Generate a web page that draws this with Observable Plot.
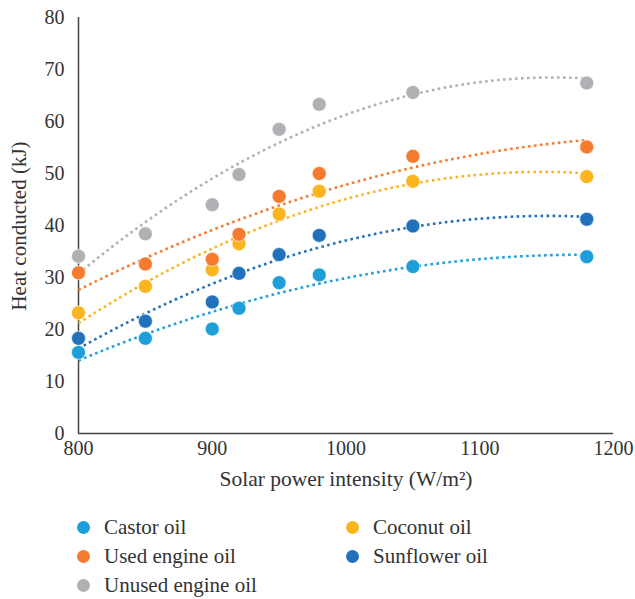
<!DOCTYPE html>
<html>
<head>
<meta charset="utf-8">
<script src="https://cdn.jsdelivr.net/npm/d3@7"></script>
<script src="https://cdn.jsdelivr.net/npm/@observablehq/plot@0.6"></script>
<style>
  html, body { margin: 0; padding: 0; background: #fff; }
  #chart { position: relative; width: 635px; }
  #chart svg, #chart svg text { font-family: 'Liberation Serif', 'Times New Roman', 'DejaVu Serif', serif !important; }
  .legend { position: relative; width: 635px; height: 99px; font-family: 'Liberation Serif', 'Times New Roman', 'DejaVu Serif', serif; font-size: 21px; color: #333; }
  .item { position: absolute; display: flex; align-items: center; white-space: nowrap; }
  .sw { width: 13px; height: 13px; border-radius: 50%; margin-right: 14px; }
</style>
</head>
<body>
<div id="chart"></div>
<script>
// ---- data ----
const intensity = [800, 850, 900, 920, 950, 980, 1050, 1180];
const seriesNames = ["Castor oil", "Coconut oil", "Used engine oil", "Sunflower oil", "Unused engine oil"];
const castorOil = [15.6, 18.3, 20.1, 24.1, 29.0, 30.5, 32.1, 34.0];
const coconutOil = [23.2, 28.3, 31.5, 36.5, 42.2, 46.6, 48.5, 49.4];
const usedEngineOil = [30.9, 32.6, 33.5, 38.3, 45.6, 50.0, 53.3, 55.1];
const sunflowerOil = [18.3, 21.6, 25.3, 30.8, 34.4, 38.1, 39.9, 41.2];
const unusedEngineOil = [34.1, 38.4, 44.0, 49.8, 58.5, 63.3, 65.6, 67.4];
const seriesColors = ["#1e9fda", "#fbb520", "#f47b30", "#2272bb", "#b0b1b4"];
const xTicks = [800, 900, 1000, 1100, 1200];
const yTicks = [0, 10, 20, 30, 40, 50, 60, 70, 80];

const valuesBy = {
  "Castor oil": castorOil,
  "Coconut oil": coconutOil,
  "Used engine oil": usedEngineOil,
  "Sunflower oil": sunflowerOil,
  "Unused engine oil": unusedEngineOil
};

const points = [];
for (const s of seriesNames) valuesBy[s].forEach((v, i) => points.push({series: s, x: intensity[i], y: v}));

// order-2 polynomial least-squares trendline (as in the original spreadsheet chart)
function polyFit(xs, ys) {
  const u = xs.map(x => (x - 1000) / 100);
  const S = k => d3.sum(u, t => t ** k);
  const T = k => d3.sum(u, (t, i) => ys[i] * t ** k);
  const A = [[S(0), S(1), S(2)], [S(1), S(2), S(3)], [S(2), S(3), S(4)]];
  const b = [T(0), T(1), T(2)];
  const M = A.map((r, i) => [...r, b[i]]);
  for (let i = 0; i < 3; i++) {
    for (let j = i + 1; j < 3; j++) {
      const f = M[j][i] / M[i][i];
      for (let k = i; k < 4; k++) M[j][k] -= f * M[i][k];
    }
  }
  const c = [0, 0, 0];
  for (let i = 2; i >= 0; i--) {
    let s = M[i][3];
    for (let k = i + 1; k < 3; k++) s -= M[i][k] * c[k];
    c[i] = s / M[i][i];
  }
  return x => { const t = (x - 1000) / 100; return c[0] + c[1] * t + c[2] * t * t; };
}

const trend = [];
const x0 = d3.min(intensity), x1 = d3.max(intensity);
for (const s of seriesNames) {
  const f = polyFit(intensity, valuesBy[s]);
  for (let x = x0; x <= x1; x += 2) trend.push({series: s, x, y: f(x)});
}

const FONT = "'Liberation Serif', 'Times New Roman', 'DejaVu Serif', serif";

const plot = Plot.plot({
  width: 635,
  height: 500,
  marginLeft: 78,
  marginRight: 22,
  marginTop: 17,
  marginBottom: 67,
  style: {fontFamily: FONT, fontSize: "20px", color: "#333", background: "#fff"},
  x: {domain: [800, 1200], ticks: xTicks, label: null},
  y: {domain: [0, 80], ticks: yTicks, label: null},
  color: {domain: seriesNames, range: seriesColors},
  marks: [
    Plot.axisX({ticks: xTicks, tickSize: 0, tickPadding: 7, tickFormat: d => String(d), fontSize: 20, label: null}),
    Plot.axisY({ticks: yTicks, tickSize: 0, tickPadding: 14, fontSize: 20, label: null}),
    Plot.ruleY([0], {stroke: "#444", strokeWidth: 1.5}),
    Plot.ruleX([800], {stroke: "#444", strokeWidth: 1.5}),
    Plot.line(trend, {x: "x", y: "y", z: "series", stroke: "series", strokeWidth: 2.6, strokeDasharray: "2.6 3.4", strokeLinecap: "butt"}),
    Plot.dot(points, {x: "x", y: "y", fill: "series", r: 7, stroke: "#fff", strokeWidth: 0.6})
  ]
});

const svg = d3.select(plot);
svg.append("text")
  .attr("transform", "translate(21,226) rotate(-90)")
  .attr("text-anchor", "middle")
  .attr("dominant-baseline", "middle")
  .attr("fill", "#333")
  .style("font-family", FONT)
  .style("font-size", "21px")
  .text("Heat conducted (kJ)");
svg.append("text")
  .attr("x", 346).attr("y", 481)
  .attr("text-anchor", "middle")
  .attr("dominant-baseline", "middle")
  .attr("fill", "#333")
  .style("font-family", FONT)
  .style("font-size", "21.5px")
  .text("Solar power intensity (W/m²)");

const chart = document.getElementById("chart");
chart.appendChild(plot);

const legend = document.createElement("div");
legend.className = "legend";
const positions = {
  "Castor oil": [77, 27],
  "Coconut oil": [346, 27],
  "Used engine oil": [77, 56],
  "Sunflower oil": [346, 56],
  "Unused engine oil": [77, 85]
};
seriesNames.forEach((s, i) => {
  const it = document.createElement("div");
  it.className = "item";
  it.style.left = positions[s][0] + "px";
  it.style.top = (positions[s][1] - 12) + "px";
  it.style.height = "24px";
  const sw = document.createElement("span");
  sw.className = "sw";
  sw.style.background = seriesColors[i];
  const tx = document.createElement("span");
  tx.textContent = s;
  it.appendChild(sw); it.appendChild(tx);
  legend.appendChild(it);
});
chart.appendChild(legend);
</script>
</body>
</html>
